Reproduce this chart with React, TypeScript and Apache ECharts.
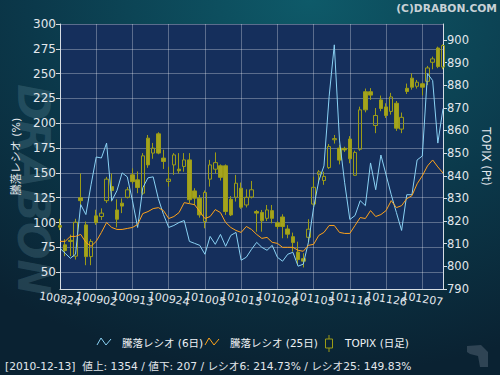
import React, { useEffect, useRef } from "react";
import * as echarts from "echarts";

const dates = [
  "100824","100825","100826","100827","100830","100831","100901","100902","100903","100906",
  "100907","100908","100909","100910","100913","100914","100915","100916","100917","100921",
  "100922","100924","100927","100928","100929","100930","101001","101004","101005","101006",
  "101007","101008","101012","101013","101014","101015","101018","101019","101020","101021",
  "101022","101025","101026","101027","101028","101029","101101","101102","101104","101105",
  "101108","101109","101110","101111","101112","101115","101116","101117","101118","101119",
  "101122","101124","101125","101126","101129","101130","101201","101202","101203","101206",
  "101207","101208","101209","101210","101213"
];

const ratio6 = [
  74,69,64,68,118,108,138,166,165,180,
  122,132,150,146,122,95,135,145,146,124,
  108,95,97,100,102,81,79,77,68,86,
  78,88,76,87,90,62,65,73,80,75,
  72,77,65,61,68,70,56,58,80,115,
  142,157,227,279,183,140,103,107,122,117,
  160,133,168,148,128,110,92,128,128,163,
  167,250,243,180,214.73
];

const ratio25 = [
  81,81,86,86,88,80,76,81,90,100,
  95,93,93,94,95,98,109,111,114,115,
  112,104,106,110,120,119,118,111,104,106,
  113,110,100,95,92,90,96,93,88,84,
  85,80,79,75,75,75,72,71,77,78,
  87,90,97,97,90,89,89,97,105,104,
  112,106,108,112,122,115,117,124,127,139,
  147,157,163,156,149.83
];

const topixOpen = [
  818,809.5,811.5,804.5,830.3,818.3,804.3,822.3,822,829,
  835.2,824.9,827.9,830.5,840.4,838.2,832.3,856.6,850,858.5,
  847.8,837.5,844.8,842.9,844.1,847,833.3,830.1,819.8,838.5,
  842.9,844.4,844.4,829.6,830.5,834.5,827.1,830.6,824.2,823.8,
  821.2,824.6,819.2,821.8,816.5,813.1,806.3,803.4,812.8,827.5,
  840.6,837.9,843.6,855.9,852.2,852.1,856.2,840.2,851.7,877.1,
  877.1,862.2,873.5,870.4,868.4,872,860.6,878.6,883.1,879.5,
  880.6,881.7,890.1,896.4,888
];
const topixClose = [
  817.3,807,811,819.5,829,804.3,811,819.3,823.5,838.5,
  833.5,820.8,826.6,833.8,837.4,834.8,848.8,844.8,852.2,850,
  846.3,838.5,849.2,842.2,847,829.4,830.1,822.7,832.6,844.8,
  845.8,839.3,824.2,822.7,836.7,826.1,830.5,833.8,823.5,820.1,
  824.9,821.2,817.6,817.6,814.2,810.5,803,802.3,816.4,834.9,
  841.7,839.7,852.9,856.4,846.9,851.4,847.5,850.3,869.1,869.1,
  875.6,866.6,869.7,866.6,874.8,861,865.8,877.2,879.1,881.3,
  879.1,887.6,891.6,888.2,897.5
];
const topixLow = [
  816,804.5,804.5,803,827,800.5,800.5,818.3,820.5,828,
  828.6,817.2,823.5,830,836.5,832.3,831.5,843.5,847.5,849.5,
  843,835.2,840.4,841,841.8,827.9,827,821.5,816.8,835.2,
  841,837.9,822.7,822.2,828.6,825.4,826,830,815.3,815.3,
  820,819,816.5,812.4,812.4,806.5,800.6,799.5,810.5,826.5,
  836.6,836,843,854.2,845,850.5,845.5,840,851,868,
  873.5,858.8,868.5,865.5,867,859.8,858.8,876.1,878,878.5,
  875.5,880,887,887.5,887
];
const topixHigh = [
  821,812,814,821,841,819.8,812,825,825.6,839.5,
  841,829.6,830,835,843.3,841.9,850,858,854.5,859.2,
  851.5,844,850,850,850,850,834.5,831.5,833.5,847,
  850.3,845,845,831,840.4,837,834,837.7,824.9,824.9,
  827.1,827.1,820,823,818.2,814.9,810.9,805.8,820.8,839.6,
  842.5,841.8,854,858,853.7,852.8,857.5,851.1,870.5,878.5,
  878.7,869.9,875.4,872,876.6,873,867.9,880.7,885.2,882.3,
  881.1,888.5,892.6,897,898
];

const ratioTicks = [50, 75, 100, 125, 150, 175, 200, 225, 250, 275, 300];
const topixTicks = [790, 800, 810, 820, 830, 840, 850, 860, 870, 880, 890, 900];

const legendNames = ["騰落レシオ (6日)", "騰落レシオ (25日)", "TOPIX (日足)"];
const footerText = "[2010-12-13]  値上: 1354 / 値下: 207 / レシオ6: 214.73% / レシオ25: 149.83%";
const copyright = "(C)DRABON.COM";

const FONT = "'DejaVu Sans', 'Noto Sans CJK JP', sans-serif";
const BLUE = "#8ad2f4";
const ORANGE = "#ffa31a";
const OLIVE = "#9c9c16";
const LABEL = "#e2e7ec";
const GRIDLINE = "rgba(255,255,255,0.3)";

export default function App() {
  const ref = useRef<HTMLDivElement>(null);

  useEffect(() => {
    document.body.style.margin = "0";
    const chart = echarts.init(ref.current as HTMLDivElement, null, { renderer: "svg" });
    const candles = topixOpen.map((o, i) => [o, topixClose[i], topixLow[i], topixHigh[i]]);

    const dateLabel = (show: (i: number) => boolean) => ({
      interval: (index: number) => show(index),
      rotate: -9,
      align: "center",
      verticalAlign: "middle",
      margin: 10,
      color: LABEL,
      fontSize: 11,
      fontFamily: FONT,
    });

    chart.setOption({
      animation: false,
      backgroundColor: {
        type: "radial",
        x: 0.62,
        y: 0,
        r: 1.0,
        colorStops: [
          { offset: 0, color: "#0e5a69" },
          { offset: 0.55, color: "#0b394b" },
          { offset: 1, color: "#0a2232" },
        ],
      },
      textStyle: { fontFamily: FONT },
      grid: {
        left: 60,
        right: 57,
        top: 24,
        bottom: 86,
        show: true,
        backgroundColor: "#152f5c",
        borderWidth: 0,
      },
      xAxis: [
        {
          type: "category",
          position: "bottom",
          data: dates,
          boundaryGap: false,
          axisLine: { lineStyle: { color: "#d6dce3" } },
          axisTick: { show: false },
          axisLabel: dateLabel((i) => i % 14 === 0),
          splitLine: { show: true, interval: 6, lineStyle: { color: GRIDLINE, width: 1 } },
        },
        {
          type: "category",
          position: "bottom",
          data: dates,
          boundaryGap: false,
          axisLine: { show: false },
          axisTick: { show: false },
          axisLabel: dateLabel((i) => i % 14 === 7),
          splitLine: { show: false },
        },
      ],
      yAxis: [
        {
          type: "value",
          position: "left",
          min: 33,
          max: 300,
          name: "騰落レシオ (%)",
          nameLocation: "middle",
          nameRotate: 90,
          nameGap: 29,
          nameTextStyle: { color: LABEL, fontSize: 11, fontFamily: FONT },
          axisLine: { show: true, lineStyle: { color: "#d6dce3" } },
          axisTick: { show: true, length: 4, customValues: ratioTicks, lineStyle: { color: "#d6dce3" } },
          axisLabel: { customValues: ratioTicks, color: LABEL, fontSize: 12, margin: 4, fontFamily: FONT },
          splitLine: { show: true, lineStyle: { color: GRIDLINE, width: 1 } },
        },
        {
          type: "value",
          position: "right",
          min: 790,
          max: 907,
          name: "TOPIX (Pt)",
          nameLocation: "middle",
          nameRotate: -90,
          nameGap: 31,
          nameTextStyle: { color: LABEL, fontSize: 11.5, fontFamily: FONT },
          axisLine: { show: true, lineStyle: { color: "#d6dce3" } },
          axisTick: { show: true, length: 4, customValues: topixTicks, lineStyle: { color: "#d6dce3" } },
          axisLabel: { customValues: topixTicks, color: LABEL, fontSize: 11.5, margin: 4, fontFamily: FONT },
          splitLine: { show: false },
        },
      ],
      series: [
        {
          type: "candlestick",
          name: legendNames[2],
          xAxisIndex: 0,
          yAxisIndex: 1,
          data: candles,
          barWidth: 4,
          itemStyle: {
            color: "rgba(0,0,0,0)",
            color0: "#a4a41e",
            borderColor: OLIVE,
            borderColor0: OLIVE,
            borderWidth: 1,
          },
        },
        {
          type: "line",
          name: legendNames[0],
          xAxisIndex: 0,
          yAxisIndex: 0,
          data: ratio6,
          symbol: "none",
          lineStyle: { color: BLUE, width: 1 },
        },
        {
          type: "line",
          name: legendNames[1],
          xAxisIndex: 0,
          yAxisIndex: 0,
          data: ratio25,
          symbol: "none",
          lineStyle: { color: ORANGE, width: 1 },
        },
      ],
      graphic: [
        {
          type: "text",
          x: 33,
          y: 190,
          rotation: -Math.PI / 2,
          silent: true,
          style: {
            text: "DRABON",
            align: "center",
            verticalAlign: "middle",
            font: "italic bold 44px 'DejaVu Sans'",
            fill: "rgba(120,165,180,0.22)",
          },
        },
        {
          type: "text",
          x: 497,
          y: 8,
          style: {
            text: copyright,
            align: "right",
            verticalAlign: "middle",
            font: "bold 10.7px 'DejaVu Sans'",
            fill: "#c8d1d6",
          },
        },
        {
          type: "polyline",
          shape: { points: [[97, 345], [101, 338], [106, 345], [111, 339]] },
          style: { stroke: BLUE, fill: "none", lineWidth: 1 },
        },
        {
          type: "text",
          x: 122,
          y: 342.5,
          style: { text: legendNames[0], verticalAlign: "middle", font: `10.5px ${FONT}`, fill: "#eef2f5" },
        },
        {
          type: "polyline",
          shape: { points: [[205, 345], [209, 338], [214, 345], [219, 339]] },
          style: { stroke: ORANGE, fill: "none", lineWidth: 1 },
        },
        {
          type: "text",
          x: 230,
          y: 342.5,
          style: { text: legendNames[1], verticalAlign: "middle", font: `10.5px ${FONT}`, fill: "#eef2f5" },
        },
        {
          type: "line",
          shape: { x1: 329, y1: 335, x2: 329, y2: 352 },
          style: { stroke: OLIVE, lineWidth: 1 },
        },
        {
          type: "rect",
          shape: { x: 325.5, y: 339, width: 7, height: 9 },
          style: { stroke: OLIVE, fill: "#0b2535", lineWidth: 1 },
        },
        {
          type: "text",
          x: 345,
          y: 342.5,
          style: { text: legendNames[2], verticalAlign: "middle", font: `10.5px ${FONT}`, fill: "#eef2f5" },
        },
        {
          type: "text",
          x: 5,
          y: 366,
          style: { text: footerText, verticalAlign: "middle", font: `10.7px ${FONT}`, fill: "#e2e7ec" },
        },
        {
          type: "polygon",
          shape: {
            points: [[467, 346], [481, 345], [485, 349], [488, 352], [488, 367], [480, 367], [478, 356], [470, 354], [467, 352]],
          },
          style: { fill: "#2f4454" },
        },
      ],
    });

    return () => chart.dispose();
  }, []);

  return <div ref={ref} style={{ position: "absolute", left: 0, top: 0, width: 500, height: 375 }} />;
}
